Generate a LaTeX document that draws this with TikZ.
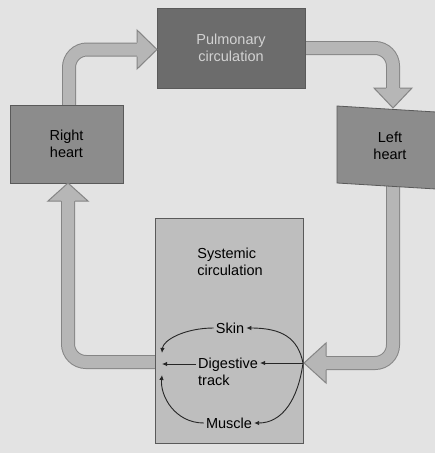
\documentclass[tikz,border=0pt]{standalone}
\usepackage{fontspec}
\setmainfont{Liberation Sans}
\usetikzlibrary{arrows.meta}
\definecolor{bg}{HTML}{E3E3E3}
\definecolor{pulc}{HTML}{6C6C6C}
\definecolor{pultext}{HTML}{D2D2D2}
\definecolor{heartc}{HTML}{8C8C8C}
\definecolor{sysc}{HTML}{BEBEBE}
\definecolor{bandfill}{HTML}{B6B6B6}
\definecolor{bandline}{HTML}{858585}
\definecolor{boxline}{HTML}{5A5A5A}
\begin{document}
\begin{tikzpicture}[x=1pt,y=-1pt,
  txt/.style={font=\fontsize{14.5}{17}\selectfont},
  box/.style={txt,draw=boxline,line width=0.8pt,inner sep=0pt,align=center},
  band/.style={line width=14pt,draw=bandline,rounded corners=18pt},
  bandin/.style={line width=12pt,draw=bandfill,rounded corners=18pt},
  headfill/.style={fill=bandfill},
  headline/.style={draw=bandline,line width=1pt,line join=miter},
  thin/.style={draw=black!85,line width=0.9pt,-{Latex[length=5pt,width=4.5pt]}},
  lbl/.style={txt,inner sep=2pt,align=left}]
\useasboundingbox (0,0) rectangle (435,453);
\fill[bg] (0,0) rectangle (435,453);

% coordinates for the thick arrows
\coordinate (a1s) at (69,105);
\coordinate (a1c) at (69,49.5);
\coordinate (a1e) at (137,49.5);
\coordinate (a2s) at (305,48);
\coordinate (a2c) at (393,48);
\coordinate (a2e) at (393,88);
\coordinate (a3s) at (393,186);
\coordinate (a3c) at (393,363);
\coordinate (a3e) at (326,363);
\coordinate (a4s) at (155,362);
\coordinate (a4c) at (68,362);
\coordinate (a4e) at (68,201);

% thick bands
\foreach \s/\c/\e in {a1s/a1c/a1e,a2s/a2c/a2e,a3s/a3c/a3e,a4s/a4c/a4e}{
  \path[band] (\s) -- (\c) -- (\e);
  \path[bandin] (\s) -- (\c) -- (\e);
}

% boxes
\node[box,fill=pulc,text=pultext,minimum width=148pt,minimum height=80pt] (pul) at (231,48) {Pulmonary\\circulation};
\node[box,fill=heartc,minimum width=113pt,minimum height=78pt] (rh) at (66.5,144) {Right\\heart};
\filldraw[fill=heartc,draw=boxline,line width=0.8pt] (337,106) -- (436,112) -- (436,189) -- (337,183) -- cycle;
\node[txt,align=center] (lh) at (390,146) {Left\\heart};
\node[draw=boxline,fill=sysc,line width=0.8pt,minimum width=148pt,minimum height=225pt] (sys) at (229,330.5) {};

% arrow heads
\fill[headfill] (137,30) -- (157,49.5) -- (137,69) -- cycle;
\draw[headline] (137,42.5) -- (137,30) -- (157,49.5) -- (137,69) -- (137,56.5);
\fill[headfill] (374,88) -- (393,108) -- (412,88) -- cycle;
\draw[headline] (386,88) -- (374,88) -- (393,108) -- (412,88) -- (400,88);
\fill[headfill] (326,343) -- (304,363) -- (326,383) -- cycle;
\draw[headline] (326,356) -- (326,343) -- (304,363) -- (326,383) -- (326,370);
\fill[headfill] (48,201) -- (68,183) -- (88,201) -- cycle;
\draw[headline] (61,201) -- (48,201) -- (68,183) -- (88,201) -- (75,201);

% systemic contents
\node[lbl] (systxt) at (230,262) {Systemic\\circulation};
\node[lbl] (skin) at (230,328) {Skin};
\node[lbl,anchor=west] (dig) at (196,372) {Digestive\\track};
\node[lbl] (mus) at (229,423) {Muscle};
\coordinate (split) at (303,363);
\coordinate (m1) at (162,353);
\coordinate (m2) at (162,364);
\coordinate (m3) at (162,375);

\draw[thin] (split) .. controls (298,338) and (282,328) .. (skin.east);
\draw[thin] (skin.west) .. controls (185,328) and (163,340) .. (m1);
\draw[thin] (split) -- (split -| dig.east);
\draw[thin] (dig.west |- m2) -- (m2);
\draw[thin] (split) .. controls (298,400) and (282,423) .. (mus.east);
\draw[thin] (mus.west) .. controls (175,423) and (160,396) .. (m3);
\end{tikzpicture}
\end{document}
